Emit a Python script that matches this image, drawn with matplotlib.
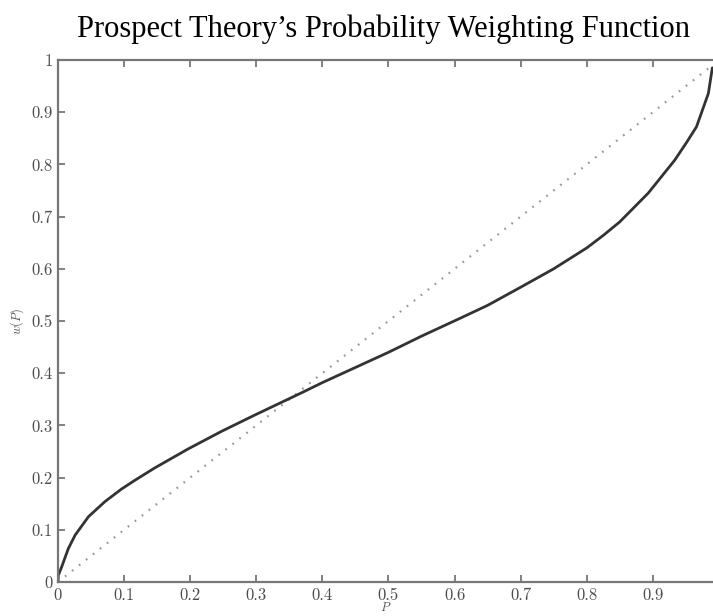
import numpy as np
import matplotlib
matplotlib.use('Agg')
import matplotlib.pyplot as plt

# probability weighting curve
p_vals = [0, 0.0005, 0.0056, 0.0156, 0.026, 0.046, 0.071, 0.096, 0.1165, 0.147,
          0.197, 0.248, 0.298, 0.371, 0.4, 0.45, 0.5, 0.55, 0.608, 0.65,
          0.699, 0.75, 0.8, 0.825, 0.85, 0.893, 0.933, 0.951, 0.966, 0.984, 0.99]
w_vals = [0, 0.013, 0.029, 0.064, 0.09, 0.125, 0.154, 0.178, 0.195, 0.219,
          0.255, 0.289, 0.32, 0.364, 0.382, 0.411, 0.44, 0.471, 0.505, 0.53,
          0.564, 0.600, 0.640, 0.664, 0.69, 0.745, 0.808, 0.842, 0.872, 0.936, 0.985]
diag = [0, 1]

xticks = [0, 0.1, 0.2, 0.3, 0.4, 0.5, 0.6, 0.7, 0.8, 0.9]
xticklabels = ['0', '0.1', '0.2', '0.3', '0.4', '0.5', '0.6', '0.7', '0.8', '0.9']
yticks = [0, 0.1, 0.2, 0.3, 0.4, 0.5, 0.6, 0.7, 0.8, 0.9, 1]
yticklabels = ['0', '0.1', '0.2', '0.3', '0.4', '0.5', '0.6', '0.7', '0.8', '0.9', '1']

plt.rcParams['mathtext.fontset'] = 'cm'

W, H = 713, 616
fig = plt.figure(figsize=(W/100, H/100), dpi=100)
ax = fig.add_axes([58/W, (H-582)/H, (W-58)/W, (582-60)/H])

ax.plot(diag, diag, color='#999999', lw=1.6, linestyle=(0, (0.8, 3.2)))
ax.plot(p_vals, w_vals, color='#333333', lw=2.0, solid_capstyle='round',
        solid_joinstyle='round')

ax.set_xlim(0, 0.991)
ax.set_ylim(0, 1)

for side in ['left', 'bottom', 'top']:
    ax.spines[side].set_color('#777777')
    ax.spines[side].set_linewidth(1.6)
ax.spines['right'].set_visible(False)

ax.set_xticks(xticks)
ax.set_xticklabels(xticklabels, fontfamily='cmr10', fontsize=12, color='#4d4d4d')
ax.set_yticks(yticks)
ax.set_yticklabels(yticklabels, fontfamily='cmr10', fontsize=12, color='#4d4d4d')
ax.tick_params(direction='in', length=5, width=1.3, color='#777777',
               top=True, right=False, pad=4)

ax.set_xlabel('$P$', fontsize=9, color='#555555', labelpad=-1)
ax.set_ylabel('$w(P)$', fontsize=9, color='#555555', labelpad=4)

fig.text(0.538, 1 - 29/H, 'Prospect Theory\u2019s Probability Weighting Function',
         ha='center', va='center', fontsize=22, family='Liberation Serif',
         color='black')

fig.savefig('out.png', dpi=100, facecolor='w')
